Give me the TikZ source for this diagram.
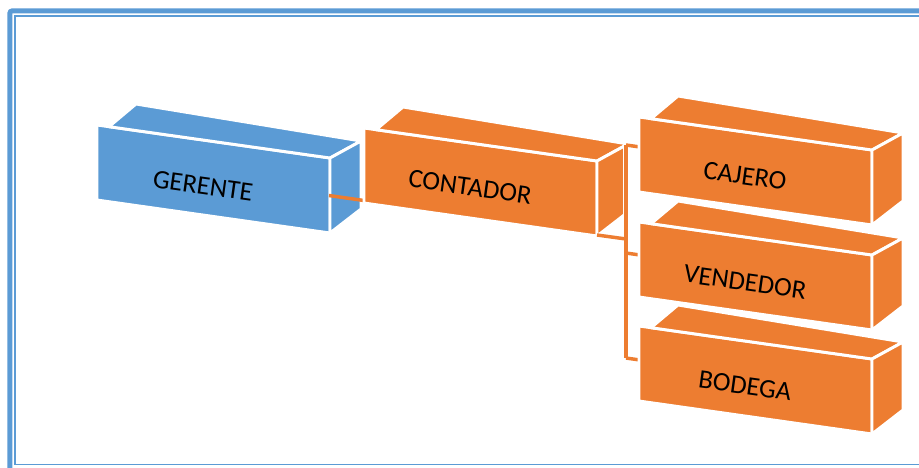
\documentclass[tikz,border=0pt]{standalone}
\usepackage{fontspec}
\setmainfont{Carlito}
\definecolor{boxblue}{HTML}{5B9BD5}
\definecolor{boxorange}{HTML}{ED7D31}
\definecolor{frameblue}{HTML}{5B9BD5}
\tikzset{
  face/.style={fill=#1, draw=white, line width=2.2pt, line join=round},
  conn/.style={draw=boxorange, line width=2.6pt},
  casing/.style={draw=white, line width=4.6pt},
  boxlabel/.style={font=\fontsize{20}{24}\selectfont, text=black, rotate=-8, inner sep=0pt},
}
% a slanted 3D slab: front, top and side faces; #1,#2 = front top-left corner, #3 = colour
\newcommand\slabbox[3]{%
  \begin{scope}[shift={(#1,#2)}]
    \path[face=#3] (0,0) -- (233,33) -- (233,108) -- (0,75) -- cycle;
    \path[face=#3] (12,1.7) -- (233,33) -- (264,16) -- (39,-21) -- cycle;
    \path[face=#3] (233,33) -- (264,16) -- (264,84) -- (233,108) -- cycle;
  \end{scope}}
\begin{document}
\begin{tikzpicture}[x=0.75pt, y=-0.75pt]
  \useasboundingbox (0,0) rectangle (919,467);
  \clip (0,0) rectangle (919,467);
  \fill[white] (0,0) rectangle (919,467);

  % frame
  \draw[frameblue, line width=3.75pt, rounded corners=2pt] (9.8,10.8) rectangle (960,500);
  \draw[frameblue, line width=1.2pt] (14.9,15.8) rectangle (940,464.3);

  % anchor points of the connectors
  \coordinate (g-out) at (329,195.5);
  \coordinate (c-in)  at (364,200.5);
  \coordinate (c-out) at (597,235);
  \coordinate (sp-c)  at (626,239);
  \coordinate (sp-1)  at (626,145);
  \coordinate (sp-2)  at (626,253);
  \coordinate (sp-3)  at (626,358);
  \coordinate (cj-in) at (640,147);
  \coordinate (vd-in) at (640,255);
  \coordinate (bd-in) at (640,360);

  % GERENTE
  \slabbox{97}{125}{boxblue}
  \node[boxlabel] (gerente) at (203,186) {GERENTE};

  % link to CONTADOR (passes behind it)
  \draw[conn] (g-out) -- (c-in);

  % CONTADOR
  \slabbox{364}{128}{boxorange}
  \node[boxlabel] (contador) at (470,187) {CONTADOR};

  % spine and branches to the subordinates
  \draw[casing] (sp-1) -- (sp-3);
  \draw[conn] (sp-1) -- (sp-3);
  \draw[conn] (c-out) -- (sp-c);
  \draw[conn] (sp-1) -- (cj-in);
  \draw[conn] (sp-2) -- (vd-in);
  \draw[conn] (sp-3) -- (bd-in);

  % subordinates
  \slabbox{639}{117}{boxorange}
  \node[boxlabel] (cajero) at (745,176) {CAJERO};
  \slabbox{639}{222}{boxorange}
  \node[boxlabel] (vendedor) at (745,282) {VENDEDOR};
  \slabbox{639}{326}{boxorange}
  \node[boxlabel] (bodega) at (745,386) {BODEGA};
\end{tikzpicture}
\end{document}
